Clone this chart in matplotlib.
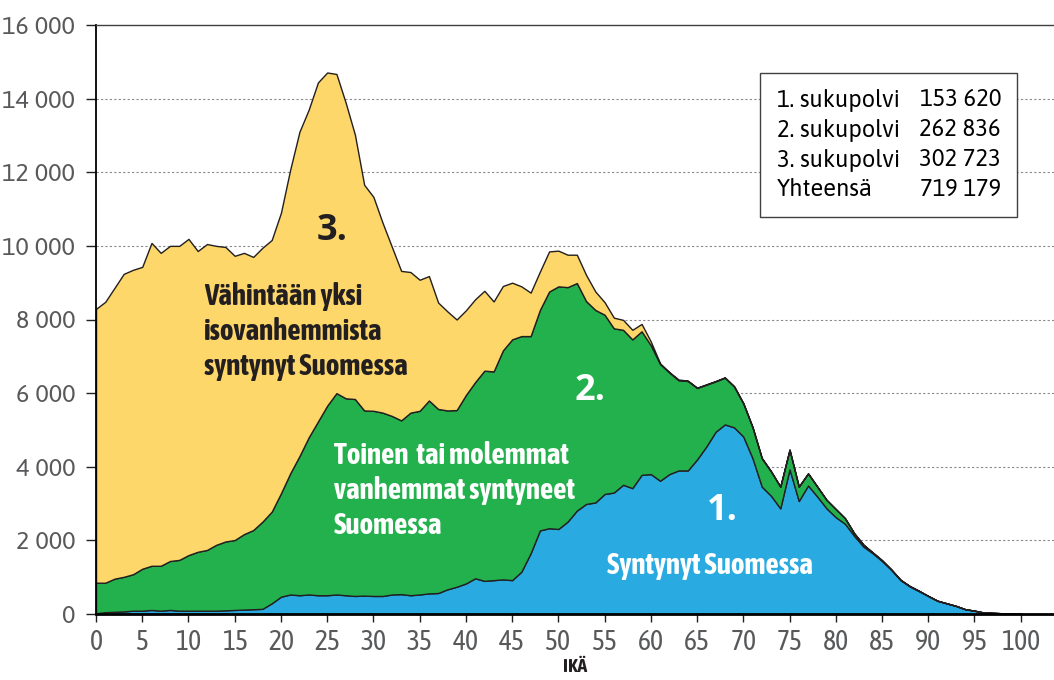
import matplotlib.pyplot as plt
from matplotlib.ticker import FuncFormatter

# age groups 0..100
ages = list(range(101))

# born in Finland (1st generation)
gen1 = [20, 50, 60, 70, 90, 90, 110, 90, 110, 90,
        90, 90, 90, 90, 100, 110, 120, 130, 140, 290,
        470, 530, 510, 530, 510, 510, 530, 510, 490, 500,
        490, 490, 530, 540, 510, 530, 560, 570, 670, 740,
        830, 970, 900, 920, 940, 920, 1150, 1650, 2270, 2330,
        2310, 2510, 2810, 2990, 3030, 3260, 3300, 3510, 3420, 3780,
        3800, 3620, 3800, 3900, 3900, 4200, 4550, 4950, 5150, 5070,
        4820, 4230, 3460, 3210, 2870, 3930, 3070, 3490, 3190, 2870,
        2630, 2450, 2120, 1830, 1650, 1440, 1200, 920, 750, 620,
        490, 360, 290, 220, 130, 90, 40, 30, 20, 10, 10]

# top of the green layer (1st + 2nd generation)
top2 = [850, 850, 960, 1010, 1080, 1230, 1310, 1310, 1440, 1470,
        1600, 1690, 1740, 1880, 1970, 2010, 2170, 2280, 2510, 2780,
        3280, 3820, 4290, 4800, 5230, 5660, 6000, 5860, 5840, 5530,
        5520, 5470, 5380, 5260, 5470, 5520, 5800, 5570, 5530, 5540,
        5950, 6300, 6610, 6590, 7160, 7460, 7550, 7550, 8260, 8760,
        8900, 8880, 8990, 8500, 8260, 8130, 7760, 7720, 7460, 7680,
        7300, 6790, 6560, 6350, 6330, 6140, 6230, 6320, 6420, 6180,
        5720, 5070, 4230, 3870, 3460, 4460, 3460, 3820, 3460, 3100,
        2850, 2600, 2190, 1880, 1670, 1460, 1210, 930, 760, 630,
        490, 360, 290, 220, 130, 90, 40, 30, 20, 10, 10]

# total of all three generations
total = [8290, 8480, 8860, 9240, 9350, 9430, 10080, 9810, 10000, 10000,
         10190, 9860, 10050, 10000, 9970, 9730, 9810, 9700, 9950, 10160,
         10900, 12070, 13100, 13700, 14440, 14710, 14670, 13890, 13020, 11660,
         11330, 10620, 9970, 9320, 9290, 9080, 9180, 8460, 8220, 8000,
         8250, 8550, 8780, 8490, 8910, 9000, 8900, 8730, 9300, 9850,
         9870, 9760, 9760, 9210, 8760, 8470, 8050, 7990, 7720, 7880,
         7400, 6810, 6570, 6370, 6340, 6150, 6240, 6330, 6430, 6190,
         5730, 5080, 4240, 3880, 3460, 4470, 3460, 3820, 3460, 3100,
         2850, 2600, 2190, 1880, 1670, 1460, 1210, 930, 760, 630,
         490, 360, 290, 220, 130, 90, 40, 30, 20, 10, 10]

gen2 = [b - a for a, b in zip(gen1, top2)]
gen3 = [c - b for b, c in zip(top2, total)]

legend_rows = ["1. sukupolvi", "2. sukupolvi", "3. sukupolvi", "Yhteensä"]
legend_vals = ["153 620", "262 836", "302 723", "719 179"]

lbl3 = ["Vähintään yksi", "isovanhemmista", "syntynyt Suomessa"]
lbl2 = ["Toinen  tai molemmat", "vanhemmat syntyneet", "Suomessa"]
lbl1 = ["Syntynyt Suomessa"]

cols = ["#29abe2", "#22b14c", "#fdd76a"]
edge = "#231f20"
tick_col = "#58595b"
narrow = ["Asap Condensed", "Roboto", "DejaVu Sans"]
plain = ["Asap", "Open Sans", "DejaVu Sans"]
heavy = ["Open Sans", "DejaVu Sans"]

fig = plt.figure(figsize=(10.54, 6.80), dpi=100)
ax = fig.add_axes([96 / 1054, 66 / 680, 958 / 1054, 589 / 680])

ax.stackplot(ages, gen1, gen2, gen3, colors=cols, edgecolor=edge,
             linewidth=1.0, zorder=2)

ax.set_xlim(0, 103.6)
ax.set_ylim(0, 16000)
ax.set_xticks(range(0, 101, 5))
ax.set_yticks(range(0, 16001, 2000))
ax.yaxis.set_major_formatter(FuncFormatter(lambda v, p: f"{int(v):,}".replace(",", " ")))

for y in range(2000, 16000, 2000):
    ax.axhline(y, color="#8a8a8a", lw=0.8, ls=(0, (2, 2)), zorder=1)

ax.spines["right"].set_visible(False)
ax.spines["top"].set_color("#404040")
ax.spines["top"].set_linewidth(1.0)
ax.spines["left"].set_linewidth(1.3)
ax.spines["bottom"].set_linewidth(2.0)
ax.spines["bottom"].set_zorder(5)

ax.tick_params(axis="x", direction="out", length=6, width=1, colors=edge,
               labelcolor=tick_col, labelsize=20, pad=5)
ax.tick_params(axis="y", direction="out", length=7, width=1, colors=edge,
               labelcolor=tick_col, labelsize=18, pad=8)
for lab in ax.get_xticklabels():
    lab.set_family(narrow)
for lab in ax.get_yticklabels():
    lab.set_family(plain)

ax.set_xlabel("IKÄ", fontsize=14, fontweight="bold", color=edge, labelpad=1,
              family=narrow)

# pixel -> data helpers for label placement
def px(x):
    return (x - 96) / 9.25

def py(y):
    return (614 - y) / 36.81 * 1000

def lines(rows, x0, y0, color):
    for i, s in enumerate(rows):
        ax.text(px(x0), py(y0 + 35 * i), s, fontsize=21, fontweight="bold",
                color=color, ha="left", va="baseline", family=narrow, zorder=4)

ax.text(px(317), py(240), "3.", fontsize=26, fontweight="bold", color=edge,
        ha="left", va="baseline", family=heavy, zorder=4)
lines(lbl3, 204, 305, edge)
ax.text(px(575), py(400), "2.", fontsize=26, fontweight="bold", color="white",
        ha="left", va="baseline", family=heavy, zorder=4)
lines(lbl2, 334, 464, "white")
ax.text(px(707), py(520), "1.", fontsize=26, fontweight="bold", color="white",
        ha="left", va="baseline", family=heavy, zorder=4)
lines(lbl1, 607, 574, "white")

# summary box
box = plt.Rectangle((760 / 1054, (680 - 217) / 680), 257 / 1054, 144 / 680,
                    transform=fig.transFigure, facecolor="white",
                    edgecolor="#404040", lw=1.0, zorder=6)
fig.patches.append(box)
for i, (lab, val) in enumerate(zip(legend_rows, legend_vals)):
    yy = (680 - 100 - 30 * i) / 680
    fig.text(777 / 1054, yy, lab, fontsize=17, color="black", va="center",
             ha="left", family=plain, zorder=7)
    fig.text(1001 / 1054, yy, val, fontsize=17, color="black", va="center",
             ha="right", family=plain, zorder=7)

fig.savefig("out.png", dpi=100)
